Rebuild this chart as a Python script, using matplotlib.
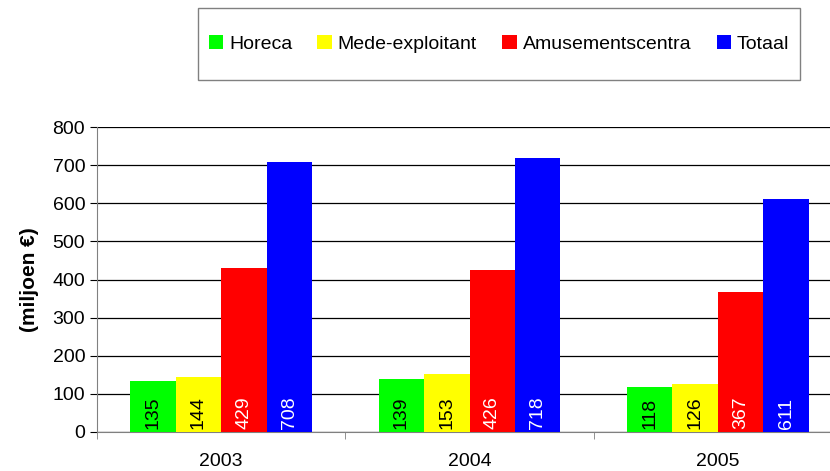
import matplotlib.pyplot as plt
import numpy as np
from matplotlib.patches import Rectangle

plt.rcParams['font.family'] = ['Liberation Sans', 'DejaVu Sans']

years = ['2003', '2004', '2005']
series_names = ['Horeca', 'Mede-exploitant', 'Amusementscentra', 'Totaal']
horeca = [135, 139, 118]
mede = [144, 153, 126]
amusement = [429, 426, 367]
totaal = [708, 718, 611]
colors = ['#00ff00', '#ffff00', '#ff0000', '#0000ff']
label_colors = ['black', 'black', 'white', 'white']

fig = plt.figure(figsize=(8.3, 4.71), dpi=100)
ax = fig.add_axes([97 / 830, 1 - 432 / 471, 745 / 830, 305 / 471])

x = np.arange(len(years))
width = 0.183
data = [horeca, mede, amusement, totaal]
for i, (vals, c, lc, name) in enumerate(zip(data, colors, label_colors, series_names)):
    pos = x + (i - 1.5) * width
    ax.bar(pos, vals, width, color=c, label=name, zorder=3)
    for p, v in zip(pos, vals):
        ax.text(p, 8, str(v), rotation=90, ha='center', va='bottom',
                color=lc, fontsize=14, zorder=4)

ax.set_xlim(-0.5, 2.5)
ax.set_ylim(0, 800)
ax.set_yticks(range(0, 801, 100))
ax.yaxis.grid(True, color='black', linewidth=0.9, zorder=0)
ax.set_xticks(x)
ax.set_xticklabels(years, fontsize=14)
ax.set_xticks([-0.5, 0.5, 1.5, 2.5], minor=True)
ax.tick_params(axis='x', which='major', length=0, pad=15)
ax.tick_params(axis='x', which='minor', length=5, color='#808080', direction='out')
ax.tick_params(axis='y', labelsize=14, length=5, direction='out')
ax.spines['top'].set_visible(False)
ax.spines['right'].set_visible(False)
ax.spines['left'].set_color('#808080')
ax.spines['bottom'].set_color('#808080')
ax.set_ylabel('(miljoen €)', fontsize=15, fontweight='bold', labelpad=10)

# legend box
fig.patches.append(Rectangle((198 / 830, 1 - 80 / 471), 602 / 830, 72 / 471,
                             transform=fig.transFigure, fill=False,
                             edgecolor='#808080', linewidth=1))
handles, labels = ax.get_legend_handles_labels()
fig.legend(handles, labels, loc='center', bbox_to_anchor=(499 / 830, 1 - 44 / 471),
           ncol=4, frameon=False, fontsize=14, handlelength=0.75, handleheight=0.75,
           handletextpad=0.3, columnspacing=1.3)

fig.savefig('out.png', dpi=100)
